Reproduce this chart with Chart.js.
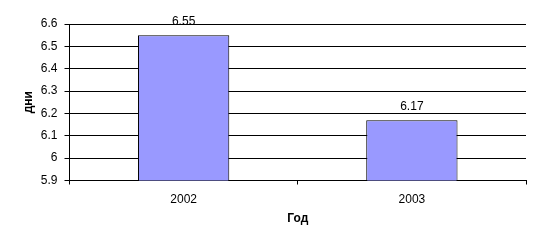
<!DOCTYPE html>
<html>
<head>
<meta charset="utf-8">
<script src="https://cdn.jsdelivr.net/npm/chart.js@4/dist/chart.umd.min.js"></script>
<style>
  html, body { margin: 0; padding: 0; background: #fff; }
  #wrap { width: 542px; height: 246px; }
</style>
</head>
<body>
<div id="wrap"><canvas id="chart" width="542" height="246"></canvas></div>
<script>
const years = ["2002", "2003"]
const days = [6.55, 6.17]
const yTicks = [5.9, 6, 6.1, 6.2, 6.3, 6.4, 6.5, 6.6]

const font = "'Liberation Sans', Arial, sans-serif"

// value labels above the bars
const barLabels = {
  id: "barLabels",
  afterDatasetsDraw(chart) {
    const ctx = chart.ctx
    const meta = chart.getDatasetMeta(0)
    ctx.save()
    ctx.font = "12px " + font
    ctx.fillStyle = "#000"
    ctx.textAlign = "center"
    ctx.textBaseline = "middle"
    meta.data.forEach((bar, i) => {
      ctx.fillText(days[i].toFixed(2), bar.x, bar.y - 13)
    })
    ctx.restore()
  },
}

new Chart(document.getElementById("chart"), {
  type: "bar",
  data: {
    labels: years,
    datasets: [
      {
        data: days,
        backgroundColor: "#9999ff",
        borderColor: "#000",
        borderWidth: 1,
        borderSkipped: false,
        barPercentage: 0.4,
        categoryPercentage: 1,
      },
    ],
  },
  options: {
    responsive: false,
    animation: false,
    layout: { padding: { top: 24, right: 16, left: 0, bottom: 0 } },
    plugins: {
      legend: { display: false },
      tooltip: { enabled: false },
    },
    scales: {
      x: {
        grid: {
          offset: true,
          drawOnChartArea: false,
          drawTicks: true,
          tickLength: 4,
          color: "#000",
        },
        border: { color: "#000", width: 1 },
        ticks: {
          color: "#000",
          font: { family: font, size: 12 },
          padding: 8,
        },
        title: {
          display: true,
          text: "Год",
          color: "#000",
          font: { family: font, size: 12, weight: "bold" },
          padding: { top: 0, bottom: 20 },
        },
        afterFit(scale) {
          scale.height = 65.5
        },
      },
      y: {
        min: 5.9,
        max: 6.6,
        afterBuildTicks(scale) {
          scale.ticks = yTicks.map((v) => ({ value: v }))
        },
        grid: {
          color: "#000",
          drawTicks: true,
          tickLength: 5,
        },
        border: { color: "#000", width: 1 },
        ticks: {
          color: "#000",
          font: { family: font, size: 12 },
          padding: 7,
          callback: (v) => String(Math.round(v * 10) / 10),
        },
        title: {
          display: true,
          text: "дни",
          color: "#000",
          font: { family: font, size: 12, weight: "bold" },
          padding: { top: 21, bottom: 0 },
        },
        afterFit(scale) {
          scale.width = 69.5
        },
      },
    },
  },
  plugins: [barLabels],
})
</script>
</body>
</html>
